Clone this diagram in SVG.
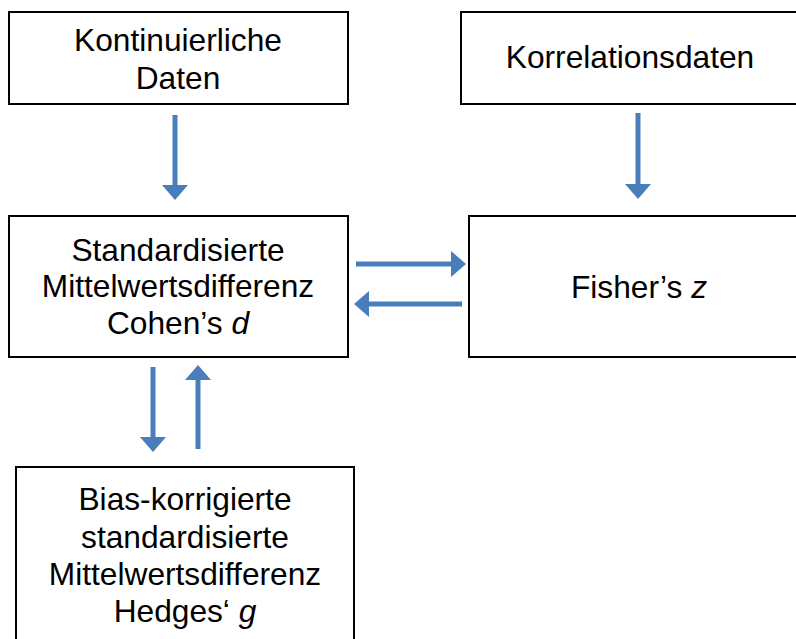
<svg xmlns="http://www.w3.org/2000/svg" width="796" height="639" viewBox="0 0 796 639">
  <style>
    .box { fill: #ffffff; stroke: #000000; stroke-width: 2; }
    .lbl { font-family: "Liberation Sans", Arial, sans-serif; font-size: 31.7px; fill: #000000; text-anchor: middle; }
    .it { font-style: italic; }
    .arrow { stroke: #4a7ebb; stroke-width: 5; fill: none; marker-end: url(#head); }
  </style>
  <defs>
    <marker id="head" markerUnits="userSpaceOnUse" markerWidth="16" markerHeight="26" viewBox="0 0 16 26" refX="0" refY="13" orient="auto">
      <path d="M0,0 L15,13 L0,26 z" fill="#4a7ebb"/>
    </marker>
  </defs>
  <rect width="796" height="639" fill="#ffffff"/>

  <g id="node-kontinuierliche">
    <rect class="box" x="9" y="12" width="339" height="92"/>
    <text class="lbl" x="178" y="51">Kontinuierliche</text>
    <text class="lbl" x="178" y="89">Daten</text>
  </g>

  <g id="node-korrelation">
    <rect class="box" x="461" y="12" width="345" height="92"/>
    <text class="lbl" x="630" y="68">Korrelationsdaten</text>
  </g>

  <g id="node-cohen">
    <rect class="box" x="9" y="216" width="339" height="141"/>
    <text class="lbl" x="178" y="261">Standardisierte</text>
    <text class="lbl" x="178" y="297">Mittelwertsdifferenz</text>
    <text class="lbl" x="178" y="334">Cohen’s <tspan class="it">d</tspan></text>
  </g>

  <g id="node-fisher">
    <rect class="box" x="469" y="216" width="345" height="141"/>
    <text class="lbl" x="639" y="298">Fisher’s <tspan class="it">z</tspan></text>
  </g>

  <g id="node-hedges">
    <rect class="box" x="16" y="467" width="338" height="190"/>
    <text class="lbl" x="185" y="510">Bias-korrigierte</text>
    <text class="lbl" x="185" y="548">standardisierte</text>
    <text class="lbl" x="185" y="585">Mittelwertsdifferenz</text>
    <text class="lbl" x="185" y="622">Hedges‘ <tspan class="it">g</tspan></text>
  </g>

  <g id="connectors">
    <line class="arrow" x1="175" y1="115" x2="175" y2="185"/>
    <line class="arrow" x1="638" y1="113" x2="638" y2="184"/>
    <line class="arrow" x1="356" y1="264" x2="451" y2="264"/>
    <line class="arrow" x1="462" y1="304" x2="369" y2="304"/>
    <line class="arrow" x1="153" y1="367" x2="153" y2="437"/>
    <line class="arrow" x1="198" y1="449" x2="198" y2="380"/>
  </g>
</svg>
